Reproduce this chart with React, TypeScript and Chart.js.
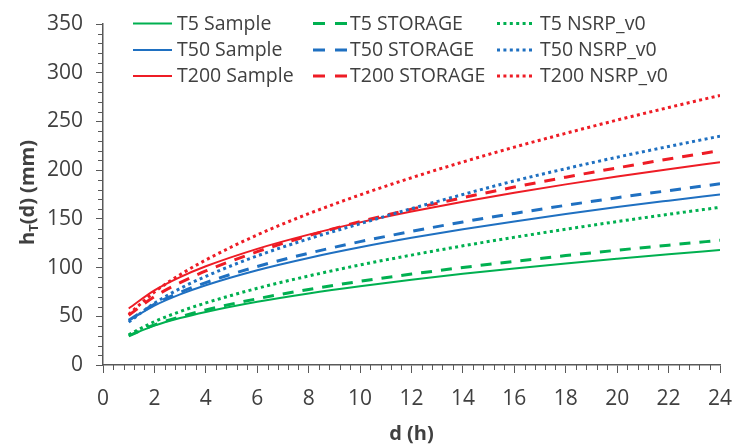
import { useEffect, useRef } from "react";
import { Chart, registerables } from "chart.js";

Chart.register(...registerables);

// Duration d (h) at which each depth-duration curve is sampled
const hours = [1, 2, 3, 4, 6, 8, 10, 12, 14, 16, 18, 20, 22, 24];

// Rainfall depth h_T(d) in mm
const t5Sample = [30, 40.4, 48.2, 54.5, 64.9, 73.5, 80.9, 87.5, 93.6, 99.1, 104.3, 109.1, 113.7, 118.0];
const t50Sample = [45.5, 61.0, 72.5, 81.9, 97.3, 109.9, 120.8, 130.5, 139.3, 147.4, 155.0, 162.1, 168.7, 175.1];
const t200Sample = [58, 76.6, 90.2, 101.3, 119.2, 133.8, 146.4, 157.5, 167.6, 176.8, 185.4, 193.4, 201.0, 208.1];
const t5Storage = [30, 41.2, 49.5, 56.5, 68.0, 77.5, 85.9, 93.3, 100.1, 106.4, 112.3, 117.8, 123.0, 128.0];
const t50Storage = [46, 62.4, 74.6, 84.6, 101.1, 114.7, 126.6, 137.1, 146.8, 155.6, 163.9, 171.7, 179.0, 186.0];
const t200Storage = [51, 70.2, 84.5, 96.5, 116.3, 132.7, 147.1, 160.0, 171.7, 182.6, 192.8, 202.3, 211.4, 220.0];
const t5Nsrp = [31, 44.5, 54.9, 63.7, 78.7, 91.4, 102.7, 112.8, 122.3, 131.1, 139.4, 147.2, 154.7, 161.8];
const t50Nsrp = [44, 63.4, 78.5, 91.0, 112.0, 129.5, 145.0, 160.5, 175.0, 189.0, 201.5, 213.3, 224.3, 234.9];
const t200Nsrp = [52, 74.9, 92.7, 107.8, 133.5, 155.3, 174.6, 192.2, 208.4, 223.6, 237.8, 251.4, 264.3, 276.7];

// Axis ranges and tick steps
const xRange = [0, 24];
const xStep = 2;
const xMinorStep = 0.4;
const yRange = [0, 350];
const yStep = 50;
const yMinorStep = 10;

const GREEN = "#00B050";
const BLUE = "#1F70C1";
const RED = "#EE1C25";
const AXIS = "#595959";
const TEXT = "#404040";
const FONT = "'Open Sans', sans-serif";

type Style = "solid" | "dash" | "dot";

const STYLE: Record<Style, { width: number; dash: number[] }> = {
  solid: { width: 2, dash: [] },
  dash: { width: 3, dash: [11, 9] },
  dot: { width: 3, dash: [3, 3.4] },
};

// Legend order: rows by return period, columns by source
const series: { label: string; values: number[]; color: string; style: Style }[] = [
  { label: "T5 Sample", values: t5Sample, color: GREEN, style: "solid" },
  { label: "T5 STORAGE", values: t5Storage, color: GREEN, style: "dash" },
  { label: "T5 NSRP_v0", values: t5Nsrp, color: GREEN, style: "dot" },
  { label: "T50 Sample", values: t50Sample, color: BLUE, style: "solid" },
  { label: "T50 STORAGE", values: t50Storage, color: BLUE, style: "dash" },
  { label: "T50 NSRP_v0", values: t50Nsrp, color: BLUE, style: "dot" },
  { label: "T200 Sample", values: t200Sample, color: RED, style: "solid" },
  { label: "T200 STORAGE", values: t200Storage, color: RED, style: "dash" },
  { label: "T200 NSRP_v0", values: t200Nsrp, color: RED, style: "dot" },
];

// Short outward ticks between the labelled ones
const minorTicks = {
  id: "minorTicks",
  afterDraw(chart: any) {
    const { ctx } = chart;
    const xs = chart.scales.x;
    const ys = chart.scales.y;
    ctx.save();
    ctx.strokeStyle = AXIS;
    ctx.lineWidth = 1;
    ctx.beginPath();
    const yCount = Math.round((yRange[1] - yRange[0]) / yMinorStep);
    for (let i = 0; i <= yCount; i++) {
      const v = yRange[0] + i * yMinorStep;
      if (i % Math.round(yStep / yMinorStep) === 0) continue;
      const py = Math.round(ys.getPixelForValue(v)) + 0.5;
      ctx.moveTo(ys.right - 5, py);
      ctx.lineTo(ys.right, py);
    }
    const xCount = Math.round((xRange[1] - xRange[0]) / xMinorStep);
    for (let i = 0; i <= xCount; i++) {
      const v = xRange[0] + i * xMinorStep;
      if (i % Math.round(xStep / xMinorStep) === 0) continue;
      const px = Math.round(xs.getPixelForValue(v)) + 0.5;
      ctx.moveTo(px, xs.top);
      ctx.lineTo(px, xs.top + 5);
    }
    ctx.stroke();
    ctx.restore();
  },
};

// Vertical axis title with a subscript T
const yTitle = {
  id: "yTitle",
  afterDraw(chart: any) {
    const { ctx, chartArea } = chart;
    const cy = (chartArea.top + chartArea.bottom) / 2 - 2;
    const big = `bold 20px ${FONT}`;
    const small = `bold 13px ${FONT}`;
    ctx.save();
    ctx.translate(28, cy);
    ctx.rotate(-Math.PI / 2);
    ctx.fillStyle = TEXT;
    ctx.textBaseline = "middle";
    ctx.textAlign = "left";
    ctx.font = big;
    const w1 = ctx.measureText("h").width;
    const w3 = ctx.measureText("(d) (mm)").width;
    ctx.font = small;
    const w2 = ctx.measureText("T").width;
    let x = -(w1 + w2 + w3) / 2;
    ctx.font = big;
    ctx.fillText("h", x, 0);
    x += w1;
    ctx.font = small;
    ctx.fillText("T", x, 6);
    x += w2;
    ctx.font = big;
    ctx.fillText("(d) (mm)", x, 0);
    ctx.restore();
  },
};

// Three-column legend inside the plot area
const gridLegend = {
  id: "gridLegend",
  afterDraw(chart: any) {
    const { ctx, chartArea } = chart;
    const cols = [
      { start: 30, end: 69, text: 74 },
      { start: 210, end: 244, text: 247 },
      { start: 394, end: 432, text: 437 },
    ];
    const rows = [-0.5, 26, 52];
    ctx.save();
    ctx.font = `19.5px ${FONT}`;
    ctx.textBaseline = "middle";
    ctx.textAlign = "left";
    series.forEach((s, i) => {
      const c = cols[i % 3];
      const y = chartArea.top + rows[Math.floor(i / 3)];
      const st = STYLE[s.style];
      ctx.strokeStyle = s.color;
      ctx.lineWidth = st.width;
      ctx.setLineDash(s.style === "dash" ? [12, 10] : st.dash);
      ctx.beginPath();
      ctx.moveTo(chartArea.left + c.start, y);
      ctx.lineTo(chartArea.left + c.end, y);
      ctx.stroke();
      ctx.setLineDash([]);
      ctx.fillStyle = TEXT;
      ctx.fillText(s.label, chartArea.left + c.text, y + 0.5);
    });
    ctx.restore();
  },
};

export default function App() {
  const ref = useRef<HTMLCanvasElement | null>(null);

  useEffect(() => {
    if (!ref.current) return;
    const chart = new Chart(ref.current, {
      type: "line",
      data: {
        datasets: series.map((s) => ({
          label: s.label,
          data: hours.map((h, i) => ({ x: h, y: s.values[i] })),
          borderColor: s.color,
          backgroundColor: s.color,
          borderWidth: STYLE[s.style].width,
          borderDash: STYLE[s.style].dash,
          pointRadius: 0,
          fill: false,
          cubicInterpolationMode: "monotone" as const,
        })),
      },
      options: {
        animation: false,
        responsive: false,
        maintainAspectRatio: false,
        layout: { padding: { top: 24, right: 14, left: 0, bottom: 0 } },
        plugins: {
          legend: { display: false },
          tooltip: { enabled: false },
        },
        scales: {
          x: {
            type: "linear",
            min: xRange[0],
            max: xRange[1],
            ticks: {
              stepSize: xStep,
              color: TEXT,
              font: { family: FONT, size: 21 },
              padding: 13,
              maxRotation: 0,
              autoSkip: false,
            },
            grid: {
              drawOnChartArea: false,
              drawTicks: true,
              tickLength: 8,
              color: AXIS,
              tickColor: AXIS,
            },
            border: { display: true, color: AXIS, width: 1.5 },
            title: {
              display: true,
              text: "d (h)",
              color: TEXT,
              font: { family: FONT, size: 20, weight: "bold" },
              padding: { top: 0, bottom: 0 },
            },
            afterFit: (s: any) => {
              s.height = 81;
              s.paddingLeft = 0;
              s.paddingRight = 0;
            },
          },
          y: {
            type: "linear",
            min: yRange[0],
            max: yRange[1],
            ticks: {
              stepSize: yStep,
              color: TEXT,
              font: { family: FONT, size: 21 },
              padding: 13,
            },
            grid: {
              drawOnChartArea: false,
              drawTicks: true,
              tickLength: 7,
              color: AXIS,
              tickColor: AXIS,
            },
            border: { display: true, color: AXIS, width: 1.5 },
            afterFit: (s: any) => {
              s.width = 103;
              s.paddingTop = 0;
              s.paddingBottom = 0;
            },
          },
        },
      },
      plugins: [minorTicks, yTitle, gridLegend],
    });
    return () => chart.destroy();
  }, []);

  return (
    <div style={{ position: "fixed", left: 0, top: 0, width: 734, height: 446, background: "#fff" }}>
      <canvas ref={ref} width={734} height={446} />
    </div>
  );
}
